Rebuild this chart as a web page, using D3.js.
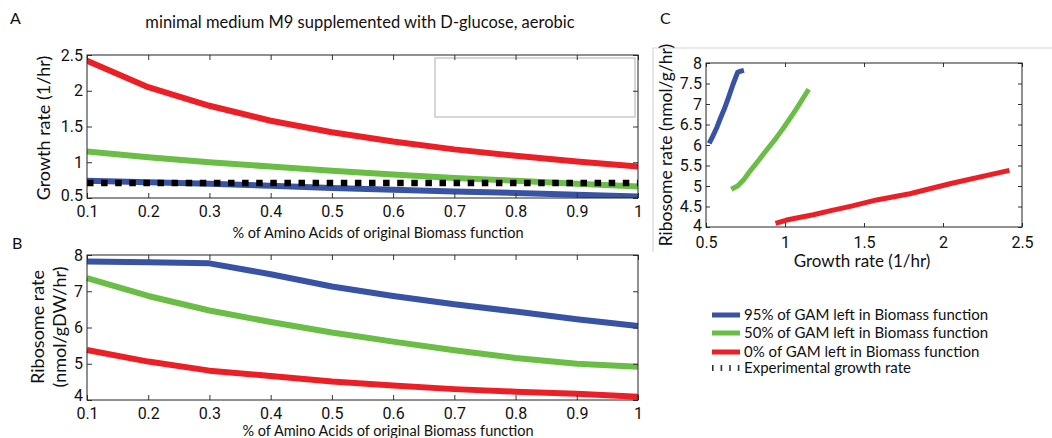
<!DOCTYPE html>
<html>
<head>
<meta charset="utf-8">
<script src="https://cdn.jsdelivr.net/npm/d3@7"></script>
<style>
  html, body { margin: 0; padding: 0; background: #fff; }
  svg { display: block; }
  .tick text { font-family: "Liberation Sans Narrow", "Roboto", sans-serif; fill: #111; }
  .lbl { font-family: "Lato", "Noto Sans", sans-serif; fill: #111; }
</style>
</head>
<body>
<svg id="chart" width="1052" height="438"></svg>
<script>
// Fraction of the original biomass amino acids
const aminoFraction = [0.1, 0.2, 0.3, 0.4, 0.5, 0.6, 0.7, 0.8, 0.9, 1.0];

// Growth rate (1/hr) per GAM level
const growth95 = [0.74, 0.72, 0.70, 0.67, 0.64, 0.615, 0.59, 0.57, 0.545, 0.52];
const growth50 = [1.15, 1.07, 1.00, 0.94, 0.88, 0.83, 0.78, 0.74, 0.70, 0.66];
const growth0  = [2.42, 2.05, 1.79, 1.58, 1.42, 1.29, 1.18, 1.09, 1.01, 0.94];
const experimentalGrowth = 0.71;

// Ribosome rate (nmol/gDW/hr) per GAM level
const ribo95 = [7.82, 7.80, 7.77, 7.47, 7.13, 6.87, 6.64, 6.44, 6.23, 6.04];
const ribo50 = [7.36, 6.87, 6.47, 6.15, 5.86, 5.61, 5.37, 5.16, 5.00, 4.92];
const ribo0  = [5.38, 5.06, 4.81, 4.66, 4.51, 4.40, 4.30, 4.23, 4.17, 4.09];

// Tick values
const ticksAminoX = [0.1, 0.2, 0.3, 0.4, 0.5, 0.6, 0.7, 0.8, 0.9, 1];
const ticksGrowthY = [0.5, 1, 1.5, 2, 2.5];
const ticksRiboY = [4, 5, 6, 7, 8];
const ticksCX = [0.5, 1, 1.5, 2, 2.5];
const ticksCY = [4, 4.5, 5, 5.5, 6, 6.5, 7, 7.5, 8];

const legendLabels = [
  "95% of GAM left in Biomass function",
  "50% of GAM left in Biomass function",
  "0% of GAM left in Biomass function",
  "Experimental growth rate"
];

const BLUE = "#3953a4", GREEN = "#6abd45", RED = "#ec1f26";

const svg = d3.select("#chart");
const fmt = d => String(d);

// Boxed axes with inward ticks on all four sides
function boxAxes(g, x, y, xt, yt, fs, tickLen, xPad) {
  const [x0, x1] = x.range(), [y0, y1] = y.range();
  g.append("g").attr("transform", `translate(0,${y0})`)
    .call(d3.axisBottom(x).tickValues(xt).tickFormat(fmt).tickSizeInner(-tickLen).tickSizeOuter(0).tickPadding(xPad))
    .call(a => a.select(".domain").remove())
    .call(a => a.selectAll("text").attr("font-size", fs).attr("dy", "0.72em"));
  g.append("g").attr("transform", `translate(0,${y1})`)
    .call(d3.axisTop(x).tickValues(xt).tickFormat("").tickSizeInner(-tickLen).tickSizeOuter(0))
    .call(a => a.select(".domain").remove());
  const left = g.append("g").attr("transform", `translate(${x0},0)`)
    .call(d3.axisLeft(y).tickValues(yt).tickFormat(fmt).tickSizeInner(-tickLen).tickSizeOuter(0).tickPadding(4))
    .call(a => a.select(".domain").remove())
    .call(a => a.selectAll("text").attr("font-size", fs));
  g.append("g").attr("transform", `translate(${x1},0)`)
    .call(d3.axisRight(y).tickValues(yt).tickFormat("").tickSizeInner(-tickLen).tickSizeOuter(0))
    .call(a => a.select(".domain").remove());
  g.selectAll(".tick line").attr("stroke", "#333");
  g.append("rect").attr("x", x0).attr("y", y1).attr("width", x1 - x0).attr("height", y0 - y1)
    .attr("fill", "none").attr("stroke", "#222").attr("stroke-width", 1);
  return left;
}

function drawSeries(g, xs, ys, x, y, color, w) {
  const pts = xs.map((v, i) => [v, ys[i]]);
  g.append("path").datum(pts)
    .attr("d", d3.line().x(d => x(d[0])).y(d => y(d[1])))
    .attr("fill", "none").attr("stroke", color).attr("stroke-width", w)
    .attr("stroke-linejoin", "round");
}

/* ---------- Panel A: growth rate ---------- */
const xA = d3.scaleLinear([0.1, 1], [87, 638]);
const yA = d3.scaleLinear([0.5, 2.5], [198, 55]);
const gA = svg.append("g");
gA.append("defs").append("clipPath").attr("id", "clipA")
  .append("rect").attr("x", 87).attr("y", 55).attr("width", 551).attr("height", 143);
const plotA = gA.append("g").attr("clip-path", "url(#clipA)");
drawSeries(plotA, aminoFraction, growth0, xA, yA, RED, 6);
drawSeries(plotA, aminoFraction, growth50, xA, yA, GREEN, 6);
drawSeries(plotA, aminoFraction, growth95, xA, yA, BLUE, 6);
plotA.append("line")
  .attr("x1", xA(0.1)).attr("x2", xA(1))
  .attr("y1", yA(experimentalGrowth)).attr("y2", yA(experimentalGrowth))
  .attr("stroke", "#000").attr("stroke-width", 6.5).attr("stroke-dasharray", "6.5 7.6");
// empty legend frame in the upper right of the axes
gA.append("rect").attr("x", 435).attr("y", 58).attr("width", 200).attr("height", 59)
  .attr("fill", "none").attr("stroke", "#c9c9c9").attr("stroke-width", 1.5);
const leftA = boxAxes(gA, xA, yA, ticksAminoX, ticksGrowthY, 16, 5, 7);
leftA.selectAll(".tick").filter(d => d === 0.5).select("text").attr("dy", "0.15em");
gA.append("text").attr("class", "lbl").attr("x", 10).attr("y", 24).attr("font-size", 16).text("A");
gA.append("text").attr("class", "lbl").attr("x", 360).attr("y", 28).attr("text-anchor", "middle")
  .attr("font-size", 16.5).text("minimal medium M9 supplemented with D-glucose, aerobic");
gA.append("text").attr("class", "lbl").attr("x", 378).attr("y", 238).attr("text-anchor", "middle")
  .attr("font-size", 14.5).text("% of Amino Acids of original Biomass function");
gA.append("text").attr("class", "lbl")
  .attr("transform", `translate(50,128) rotate(-90)`).attr("text-anchor", "middle")
  .attr("font-size", 18).text("Growth rate (1/hr)");

/* ---------- Panel B: ribosome rate ---------- */
const xB = d3.scaleLinear([0.1, 1], [87, 638]);
const yB = d3.scaleLinear([4, 8], [400, 255]);
const gB = svg.append("g");
drawSeries(gB, aminoFraction, ribo0, xB, yB, RED, 6);
drawSeries(gB, aminoFraction, ribo50, xB, yB, GREEN, 6);
drawSeries(gB, aminoFraction, ribo95, xB, yB, BLUE, 6);
const leftB = boxAxes(gB, xB, yB, ticksAminoX, ticksRiboY, 16, 5, 7);
leftB.selectAll(".tick").filter(d => d === 4).select("text").attr("dy", "0em");
gB.append("text").attr("class", "lbl").attr("x", 12).attr("y", 249).attr("font-size", 16).text("B");
gB.append("text").attr("class", "lbl").attr("x", 388).attr("y", 436).attr("text-anchor", "middle")
  .attr("font-size", 14.5).attr("fill", "#3a1c1c").text("% of Amino Acids of original Biomass function");
gB.append("text").attr("class", "lbl")
  .attr("transform", `translate(44,327) rotate(-90)`).attr("text-anchor", "middle")
  .attr("font-size", 18).text("Ribosome rate");
gB.append("text").attr("class", "lbl")
  .attr("transform", `translate(66,327) rotate(-90)`).attr("text-anchor", "middle")
  .attr("font-size", 18).text("(nmol/gDW/hr)");

/* ---------- Panel C: ribosome rate vs growth rate ---------- */
const xC = d3.scaleLinear([0.5, 2.5], [706, 1022]);
const yC = d3.scaleLinear([4, 8], [227, 63]);
const gC = svg.append("g");
// light frame around the panel
gC.append("path").attr("d", `M653,252V48H1052`).attr("fill", "none")
  .attr("stroke", "#d6d6d6").attr("stroke-width", 1.2);
drawSeries(gC, growth95, ribo95, xC, yC, BLUE, 5);
drawSeries(gC, growth50, ribo50, xC, yC, GREEN, 5);
drawSeries(gC, growth0, ribo0, xC, yC, RED, 5);
const leftC = boxAxes(gC, xC, yC, ticksCX, ticksCY, 16, 4, 9);
leftC.selectAll(".tick").filter(d => d === 4).select("text").attr("dy", "0.2em");
gC.append("text").attr("class", "lbl").attr("x", 660).attr("y", 24).attr("font-size", 16).text("C");
gC.append("text").attr("class", "lbl").attr("x", 862).attr("y", 267).attr("text-anchor", "middle")
  .attr("font-size", 17).text("Growth rate (1/hr)");
gC.append("text").attr("class", "lbl")
  .attr("transform", `translate(672,145) rotate(-90)`).attr("text-anchor", "middle")
  .attr("font-size", 17.5).text("Ribosome rate (nmol/g/hr)");

/* ---------- Legend ---------- */
const legendRows = [315, 333, 352, 368];
const legendStyles = [
  { color: BLUE, w: 5, dash: null },
  { color: GREEN, w: 5, dash: null },
  { color: RED, w: 5, dash: null },
  { color: "#333", w: 6, dash: "1.6 7" }
];
const gL = svg.append("g");
legendLabels.forEach((t, i) => {
  const s = legendStyles[i];
  const ln = gL.append("line").attr("x1", 712).attr("x2", 740)
    .attr("y1", legendRows[i]).attr("y2", legendRows[i])
    .attr("stroke", s.color).attr("stroke-width", s.w);
  if (s.dash) ln.attr("stroke-dasharray", s.dash);
  gL.append("text").attr("class", "lbl").attr("x", 744).attr("y", legendRows[i])
    .attr("dy", "0.35em").attr("font-size", 15).text(t);
});
</script>
</body>
</html>
